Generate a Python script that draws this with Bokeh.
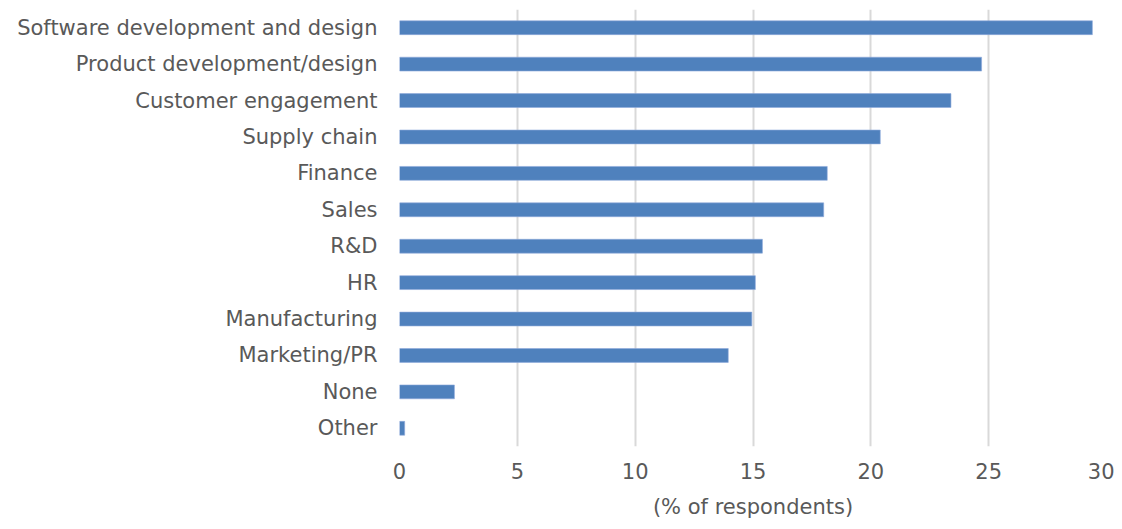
from bokeh.plotting import figure
from bokeh.models import FactorRange, Range1d, FixedTicker
from bokeh.embed import file_html
from bokeh.resources import INLINE

categories = ["Software development and design", "Product development/design",
              "Customer engagement", "Supply chain", "Finance", "Sales", "R&D", "HR",
              "Manufacturing", "Marketing/PR", "None", "Other"]
values = [29.4, 24.7, 23.4, 20.4, 18.15, 18.0, 15.4, 15.1, 14.95, 13.95, 2.33, 0.22]
x_ticks = [0, 5, 10, 15, 20, 25, 30]
x_label = "(% of respondents)"

cats_rev = categories[::-1]
vals_rev = values[::-1]

FONT = "DejaVu Sans"
TXT = "#595959"

p = figure(width=1114, height=521, output_backend="svg", toolbar_location=None,
           y_range=FactorRange(factors=cats_rev), x_range=Range1d(0, 30),
           min_border_left=399, min_border_right=8, min_border_top=9, min_border_bottom=10)
p.outline_line_color = None

p.hbar(y=cats_rev, right=vals_rev, height=0.38, fill_color="#4F81BD",
       line_color="#8FAADC", line_width=0.6)

p.xaxis.ticker = FixedTicker(ticks=x_ticks)
p.xaxis.axis_line_color = None
p.xaxis.major_tick_line_color = None
p.xaxis.minor_tick_line_color = None
p.xaxis.major_label_text_font = FONT
p.xaxis.major_label_text_font_size = "21px"
p.xaxis.major_label_text_color = TXT
p.xaxis.major_label_standoff = 10
p.xaxis.axis_label = x_label
p.xaxis.axis_label_text_font = FONT
p.xaxis.axis_label_text_font_size = "21px"
p.xaxis.axis_label_text_font_style = "normal"
p.xaxis.axis_label_text_color = TXT
p.xaxis.axis_label_standoff = 13

p.yaxis.axis_line_color = None
p.yaxis.major_tick_line_color = None
p.yaxis.major_tick_out = 0
p.yaxis.major_label_text_font = FONT
p.yaxis.major_label_text_font_size = "21px"
p.yaxis.major_label_text_color = TXT
p.yaxis.major_label_standoff = 22

p.ygrid.grid_line_color = None
p.xgrid.grid_line_color = "#D9D9D9"
p.xgrid.grid_line_width = 2

open("out.html", "w").write(file_html(p, INLINE))
